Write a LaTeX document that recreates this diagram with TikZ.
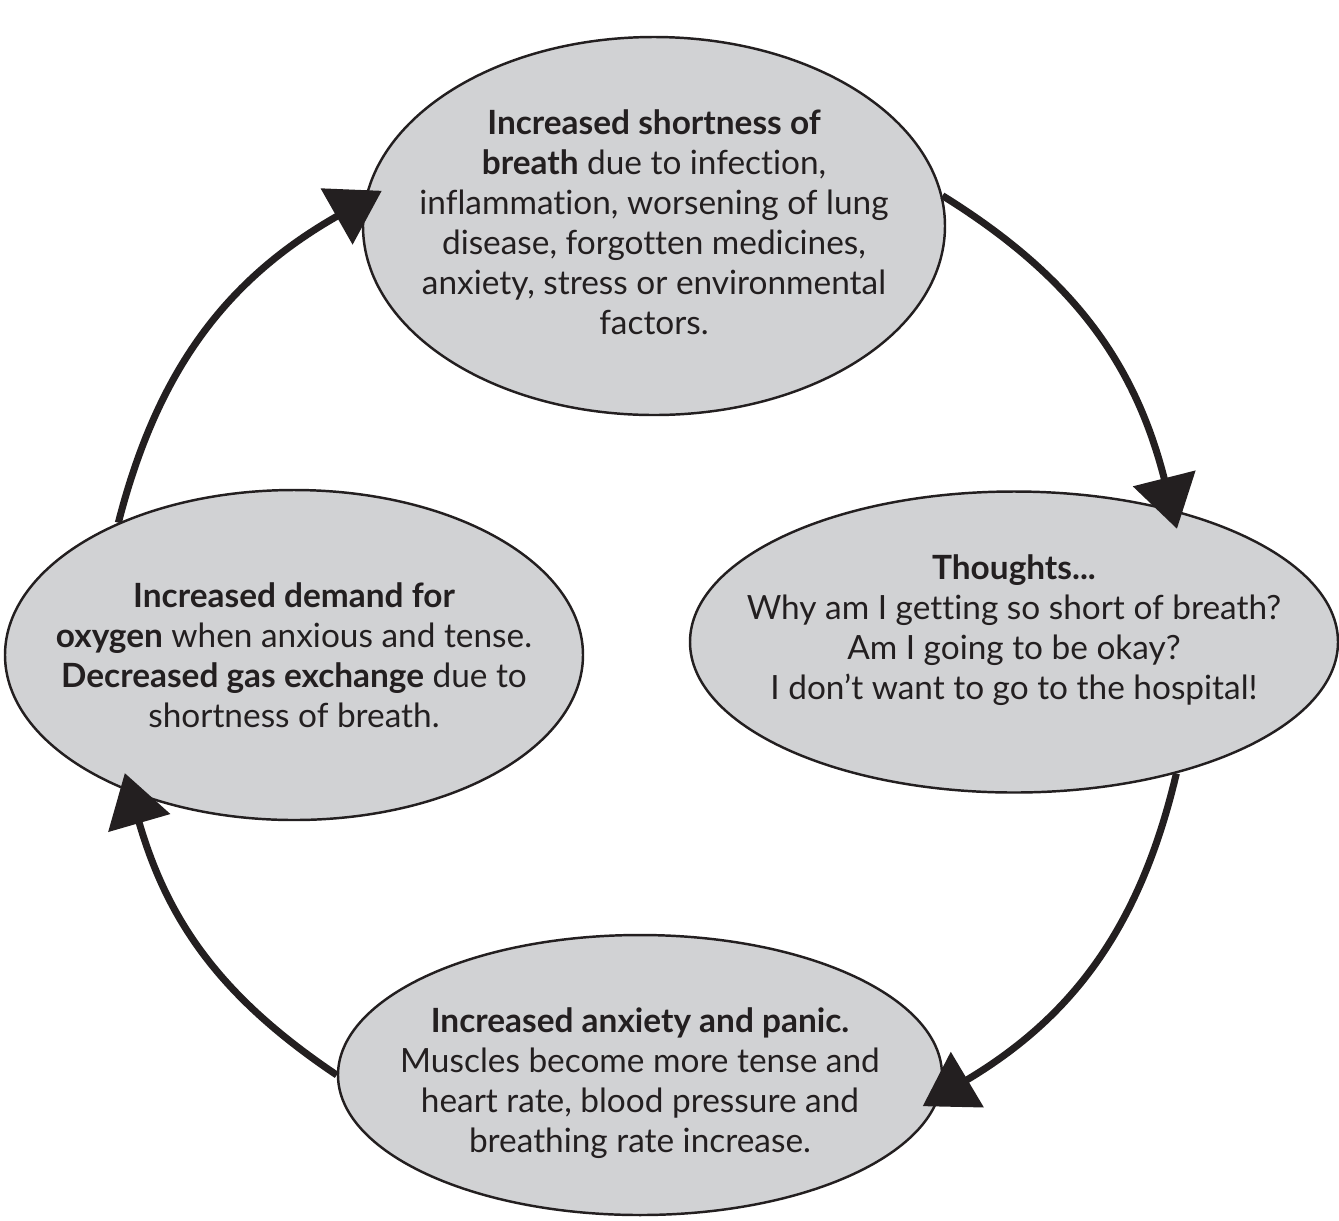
\documentclass[tikz,border=0pt]{standalone}
\usepackage{fontspec}
\setmainfont{Lato}[Ligatures={NoCommon}]
\usetikzlibrary{
    arrows.meta,
    shapes.geometric
}
\definecolor{bubblegray}{HTML}{D1D2D4}
\definecolor{inkblack}{HTML}{231F20}

\begin{document}
\begin{tikzpicture}[
    % node styles
    bubble/.style={ellipse, draw=inkblack, fill=bubblegray, line width=0.7pt, inner sep=0pt},
    bubble_text/.style={align=center, text=inkblack, inner sep=0pt, font=\fontsize{9.5}{11.4}\selectfont},
    % arrow styles
    cycle_arrow/.style={-{Triangle[length=5.2mm, width=6.3mm]}, line width=2pt, draw=inkblack, shorten >=-2mm}
]
\useasboundingbox (0,0) rectangle (13.39,-12.20);

% --- TOP: shortness of breath ---
\node[bubble, minimum width=5.82cm, minimum height=3.78cm] (breath) at (6.54,-2.26) {};
\node[bubble_text] (breath_txt) at (6.54,-2.22) {%
    \textbf{Increased shortness of}\\
    \textbf{breath} due to infection,\\
    inflammation, worsening of lung\\
    disease, forgotten medicines,\\
    anxiety, stress or environmental\\
    factors.};

% --- RIGHT: thoughts ---
\node[bubble, minimum width=6.48cm, minimum height=3.01cm] (thoughts) at (10.14,-6.42) {};
\node[bubble_text] (thoughts_txt) at (10.14,-6.30) {%
    \textbf{Thoughts...}\\
    Why am I getting so short of breath?\\
    Am I going to be okay?\\
    I don’t want to go to the hospital!};

% --- BOTTOM: anxiety and panic ---
\node[bubble, minimum width=6.04cm, minimum height=2.80cm] (panic) at (6.40,-10.75) {};
\node[bubble_text] (panic_txt) at (6.40,-10.83) {%
    \textbf{Increased anxiety and panic.}\\
    Muscles become more tense and\\
    heart rate, blood pressure and\\
    breathing rate increase.};

% --- LEFT: oxygen demand ---
\node[bubble, minimum width=5.78cm, minimum height=3.30cm] (oxygen) at (2.94,-6.55) {};
\node[bubble_text] (oxygen_txt) at (2.94,-6.55) {%
    \textbf{Increased demand for}\\
    \textbf{oxygen} when anxious and tense.\\
    \textbf{Decreased gas exchange} due to\\
    shortness of breath.};

% --- THE CYCLE ---
\draw[cycle_arrow] (breath.6) to [bend left=22] (thoughts.40);
\draw[cycle_arrow] (thoughts.-39) to [bend left=23] (panic.-4);
\draw[cycle_arrow] (panic.180) to [bend left=20] (oxygen.220);
\draw[cycle_arrow] (oxygen.143) to [bend left=23] (breath.175);

\end{tikzpicture}
\end{document}
